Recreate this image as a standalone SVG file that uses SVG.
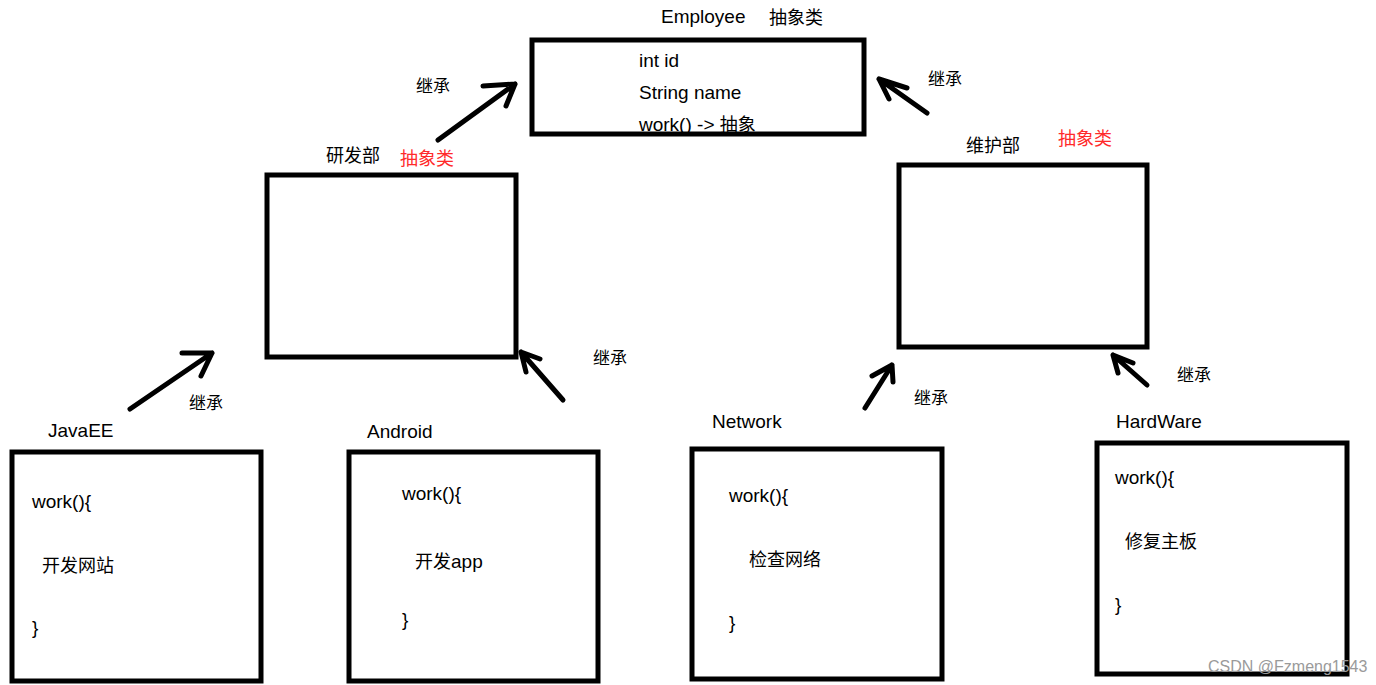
<svg xmlns="http://www.w3.org/2000/svg" width="1376" height="685" viewBox="0 0 1376 685">
<style>
.box{fill:none;stroke:#000;stroke-width:5}
.t{font-family:"Liberation Sans","Noto Sans CJK SC",sans-serif;font-size:19px;fill:#000}
.c{font-family:"Noto Sans CJK SC",sans-serif;font-size:18px;fill:#000}
.red{fill:#ff2a2a}
.lbl{font-family:"Noto Sans CJK SC",sans-serif;font-size:17px;fill:#000}
.arr{fill:none;stroke:#000;stroke-width:5;stroke-linecap:round;stroke-linejoin:round}
.wm{font-family:"Liberation Sans",sans-serif;font-size:16px;fill:#9a9a9a}
</style>
<rect width="1376" height="685" fill="#fff"/>

<g id="employee">
<rect class="box" x="532" y="40" width="332" height="94"/>
<text class="t" x="661" y="23">Employee</text>
<text class="c" x="769" y="24">抽象类</text>
<text class="t" x="639" y="67">int id</text>
<text class="t" x="639" y="99">String name</text>
<text class="t" x="639" y="131">work() -&gt; <tspan class="c">抽象</tspan></text>
</g>

<g id="yanfabu">
<rect class="box" x="267" y="175" width="249" height="182"/>
<text class="c" x="326" y="162">研发部</text>
<text class="c red" x="400" y="165">抽象类</text>
</g>

<g id="weihubu">
<rect class="box" x="899" y="165" width="248" height="182"/>
<text class="c" x="966" y="152">维护部</text>
<text class="c red" x="1058" y="145">抽象类</text>
</g>

<g id="javaee">
<rect class="box" x="12" y="452" width="249" height="229"/>
<text class="t" x="48" y="437">JavaEE</text>
<text class="t" x="32" y="508">work(){</text>
<text class="c" x="42" y="572">开发网站</text>
<text class="t" x="32" y="634">}</text>
</g>

<g id="android">
<rect class="box" x="349" y="452" width="249" height="229"/>
<text class="t" x="367" y="438">Android</text>
<text class="t" x="402" y="500">work(){</text>
<text class="c" x="415" y="568">开发<tspan class="t">app</tspan></text>
<text class="t" x="402" y="626">}</text>
</g>

<g id="network">
<rect class="box" x="692" y="449" width="250" height="230"/>
<text class="t" x="712" y="428">Network</text>
<text class="t" x="729" y="502">work(){</text>
<text class="c" x="749" y="566">检查网络</text>
<text class="t" x="729" y="629">}</text>
</g>

<g id="hardware">
<rect class="box" x="1097" y="443" width="250" height="231"/>
<text class="t" x="1116" y="428">HardWare</text>
<text class="t" x="1115" y="484">work(){</text>
<text class="c" x="1125" y="548">修复主板</text>
<text class="t" x="1115" y="611">}</text>
</g>

<g id="connectors">
<path class="arr" d="M438,140 L515,84 M483,86 L515,84 L506,106"/>
<path class="arr" d="M927,113 L879,79 M907,88 L879,79 L889,99"/>
<path class="arr" d="M130,409 L212,353 M182,353 L212,353 L201,376"/>
<path class="arr" d="M563,400 L521,352 M540,359 L521,352 L526,372"/>
<path class="arr" d="M865,408 L892,365 M872,376 L892,365 L893,382"/>
<path class="arr" d="M1147,385 L1113,355 M1133,363 L1113,355 L1118,373"/>
<text class="lbl" x="416" y="92">继承</text>
<text class="lbl" x="928" y="85">继承</text>
<text class="lbl" x="189" y="409">继承</text>
<text class="lbl" x="593" y="364">继承</text>
<text class="lbl" x="914" y="404">继承</text>
<text class="lbl" x="1177" y="381">继承</text>
</g>

<text class="wm" x="1208" y="672">CSDN @Fzmeng1543</text>
</svg>
